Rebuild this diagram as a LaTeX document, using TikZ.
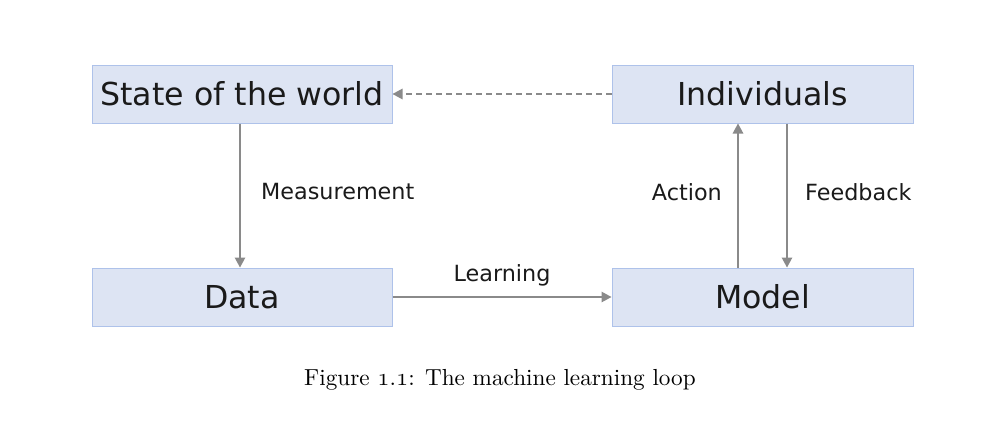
\documentclass[tikz,border=0pt]{standalone}
\usepackage{fontspec}
\setsansfont{DejaVu Sans}
\newfontfamily\capfont{lmroman10-regular}[Extension=.otf]
\usetikzlibrary{arrows.meta}
\definecolor{boxfill}{HTML}{DDE4F3}
\definecolor{boxline}{HTML}{AEC2EA}
\definecolor{arrowgray}{HTML}{8A8A8A}
\definecolor{txt}{HTML}{1A1A1A}
\newcommand{\osnum}[1]{{\usefont{OML}{cmm}{m}{it}#1}}
\tikzset{
  boxnode/.style={draw=boxline, fill=boxfill, line width=1pt, minimum height=58pt, inner sep=0pt,
    font=\sffamily\fontsize{31.6}{36}\selectfont, text=txt},
  lbl/.style={font=\sffamily\fontsize{22.3}{26}\selectfont, text=txt, inner sep=0pt},
  conn/.style={draw=arrowgray, line width=1.3pt, -{Triangle[length=10pt,width=10.5pt]}},
}
\begin{document}
\begin{tikzpicture}[x=1pt,y=-1pt]
\useasboundingbox (0,0) rectangle (1000,420);
\node[boxnode, minimum width=300pt] (state) at (242,94) {State of the world};
\node[boxnode, minimum width=301pt] (ind) at (762.5,94) {Individuals};
\node[boxnode, minimum width=300pt] (data) at (242,297) {Data};
\node[boxnode, minimum width=301pt] (model) at (762.5,297) {Model};
\draw[conn] ([xshift=-2pt]state.south) -- ([xshift=-2pt]data.north);
\draw[conn] (data.east) -- (model.west);
\draw[conn] ([xshift=-24.5pt]model.north) -- ([xshift=-24.5pt]ind.south);
\draw[conn] ([xshift=24.5pt]ind.south) -- ([xshift=24.5pt]model.north);
\draw[conn, dash pattern=on 6pt off 4pt] (ind.west) -- (state.east);
\node[lbl, anchor=west] (lmeas) at (261,192) {Measurement};
\node[lbl] (llearn) at (502,275) {Learning};
\node[lbl, anchor=east] (lact) at (722,192) {Action};
\node[lbl, anchor=west] (lfeed) at (805,192) {Feedback};
\node[font=\capfont\fontsize{23.2}{27}\selectfont, text=black] (cap) at (500,380) {Figure \osnum{1}.\osnum{1}: The machine learning loop};
\end{tikzpicture}
\end{document}
